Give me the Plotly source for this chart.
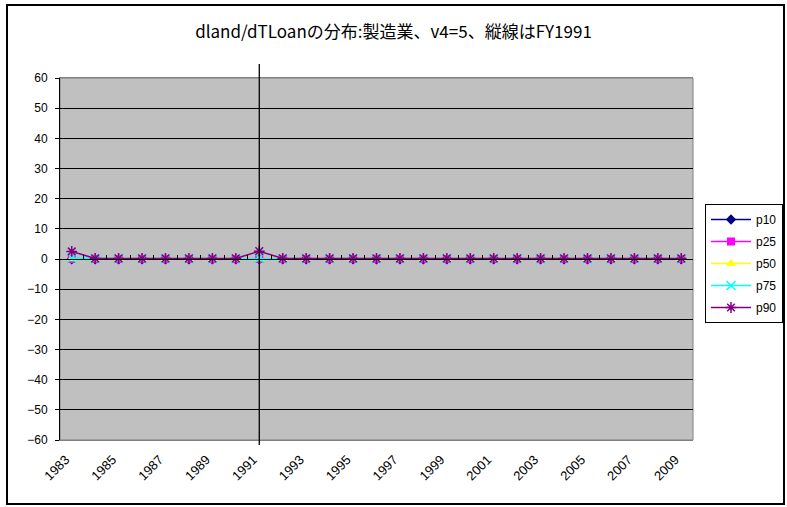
import plotly.graph_objects as go

years = list(range(1983, 2010))
tick_years = list(range(1983, 2010, 2))
tick_labels = [str(y) for y in tick_years]

p10 = [-0.1] * 27
p25 = [0.0] * 27
p50 = [0.0] * 27
p75 = [0.3] + [0.1] * 7 + [0.3] + [0.1] * 18
p90 = [2.5] + [0.2] * 7 + [2.6] + [0.2] * 18

series = [
    ("p10", p10, "#000080", "diamond", 8),
    ("p25", p25, "#FF00FF", "square", 8),
    ("p50", p50, "#FFFF00", "triangle-up", 9),
    ("p75", p75, "#00FFFF", "x-thin", 9),
    ("p90", p90, "#800080", "asterisk", 9),
]

fig = go.Figure()
for name, vals, color, sym, size in series:
    mk = dict(symbol=sym, size=size, color=color)
    if sym in ("x-thin", "asterisk"):
        mk["line"] = dict(color=color, width=1.5)
    fig.add_trace(go.Scatter(
        x=years, y=vals, name=name, legendgroup=name,
        mode="lines+markers", line=dict(color=color, width=1.5),
        marker=mk,
    ))

# invisible trace to carry the category axis drawn at y=0
fig.add_trace(go.Scatter(x=years, y=p25, xaxis="x2", mode="markers",
                         marker=dict(opacity=0), showlegend=False, hoverinfo="skip"))

font_lat = "Liberation Sans, Arial, sans-serif"

fig.update_layout(
    width=787, height=507,
    margin=dict(l=60, r=94, t=78, b=67, autoexpand=False),
    paper_bgcolor="white",
    plot_bgcolor="#C0C0C0",
    title=dict(text="dland/dTLoanの分布:製造業、v4=5、縦線はFY1991",
               font=dict(family="Noto Sans CJK JP", size=17, color="black"),
               x=0.5, xref="container", xanchor="center",
               y=1 - 32 / 507, yref="container", yanchor="middle"),
    xaxis=dict(range=[1982.5, 2009.5], tickvals=tick_years, ticktext=tick_labels,
               tickangle=-45, showgrid=False, zeroline=False, ticks="",
               showline=True, linecolor="#808080", linewidth=1, mirror=True,
               ticklabelstandoff=6, ticklabelshift=-6,
               tickfont=dict(family=font_lat, size=13, color="black")),
    xaxis2=dict(range=[1982.5, 2009.5], overlaying="x", anchor="free", position=0.5,
                tickvals=[y + 0.5 for y in years[:-1]], ticks="inside", ticklen=4,
                tickcolor="black", showticklabels=False, showgrid=False,
                zeroline=False, showline=True, linecolor="black", linewidth=1),
    yaxis=dict(range=[-60, 60], dtick=10, showgrid=True, gridcolor="black", gridwidth=1,
               zeroline=True, zerolinecolor="black", zerolinewidth=1,
               showline=True, linecolor="black", linewidth=1,
               ticks="outside", ticklen=4, tickcolor="black", ticklabelstandoff=5,
               tickfont=dict(family=font_lat, size=12, color="black")),
    legend=dict(x=705 / 787, y=1 - 204 / 507, xref="container", yref="container",
                xanchor="left", yanchor="top",
                bordercolor="black", borderwidth=1, bgcolor="white",
                font=dict(family=font_lat, size=12, color="black"),
                tracegroupgap=3, itemwidth=40),
    showlegend=True,
    shapes=[
        dict(type="rect", xref="paper", yref="paper", x0=0, x1=1, y0=0, y1=1,
             line=dict(color="#808080", width=1), layer="below"),
        dict(type="line", xref="x", yref="paper", x0=1991, x1=1991,
             y0=-0.014, y1=1.039, line=dict(color="black", width=1.3)),
        dict(type="rect", xref="paper", yref="paper",
             x0=(7 - 60) / 633, x1=(784 - 60) / 633,
             y0=(440 - 504) / 362, y1=(440 - 5) / 362,
             line=dict(color="black", width=2)),
    ],
)

fig.write_html("out.html", config={"displayModeBar": False},
               post_script="document.body.style.margin='0';document.body.style.overflow='hidden';")
